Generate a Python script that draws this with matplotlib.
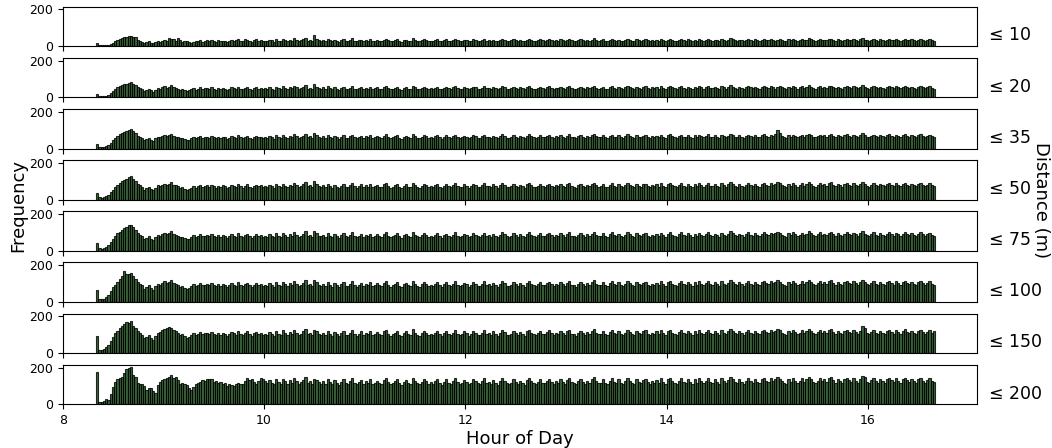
import numpy as np
import matplotlib
matplotlib.use("Agg")
import matplotlib.pyplot as plt

# ---------------- data ----------------
labels = ['≤ 10', '≤ 20', '≤ 35', '≤ 50', '≤ 75', '≤ 100', '≤ 150', '≤ 200']
x_ticks = [8, 10, 12, 14, 16]
y_ticks = [0, 200]
hour_start = 8 + 1 / 3
hour_end = 16 + 2 / 3

d10 = [15, 6, 5, 4, 5, 8, 12, 20, 28, 35, 40, 45, 50, 52, 55, 55, 50, 48, 35, 30, 25, 18, 22, 28, 20, 15, 25, 30, 22, 28,
       35, 30, 45, 40, 38, 30, 42, 35, 25, 28, 30, 22, 20, 25, 30, 28, 35, 25, 30, 32, 28, 35, 30, 25, 32, 28, 30, 26, 22, 30,
       35, 28, 32, 38, 30, 28, 40, 35, 30, 25, 32, 38, 30, 35, 28,
       30, 28, 35, 32, 25, 38, 30, 28, 40, 33, 27, 35, 30, 42, 36, 28, 32, 38, 45, 30, 35, 28, 60, 40, 32,
       30, 35, 28, 40, 32, 27, 36, 30, 25, 33, 38, 30, 28, 35, 42, 30, 27, 32, 36, 29, 34, 30, 38, 27, 31,
       35, 30, 28, 36, 40, 32, 27, 30, 34, 38, 30, 25, 33, 36, 30, 28, 42, 35, 30, 27, 32, 38, 34, 29, 31,
       28, 34, 38, 30, 26, 33, 37, 31, 29, 35, 40, 32, 28, 30, 36, 33, 27, 31, 38, 35, 30, 28, 34, 39, 31,
       33, 29, 36, 31, 27, 34, 40, 35, 30, 28, 32, 37, 33, 29, 35, 31, 27, 36, 41, 34, 30, 28, 33, 38, 32,
       30, 35, 39, 32, 28, 34, 31, 37, 33, 29, 36, 40, 32, 30, 27, 34, 38, 33, 29, 35, 31, 36, 42, 34, 30,
       32, 37, 30, 28, 35, 39, 33, 30, 36, 31, 28, 34, 40, 35, 31, 29, 37, 33, 30, 36, 38, 32, 29, 34, 31,
       35, 30, 38, 33, 29, 36, 41, 34, 31, 28, 35, 39, 32, 30, 37, 33, 29, 36, 31, 38, 34, 30, 35, 40, 33,
       31, 36, 33, 29, 38, 34, 30, 35, 42, 37, 32, 30, 36, 33, 29, 35, 39, 34, 31, 37, 33, 30, 36, 41, 35,
       32, 38, 34, 30, 36, 40, 35, 31, 29, 37, 33, 39, 35, 30, 34, 38, 32, 36, 42, 37, 33, 30, 35, 39, 34,
       36, 32, 38, 41, 35, 31, 37, 34, 30, 36, 40, 35, 32, 38, 34, 31, 37, 43, 36, 33, 30, 35, 39, 34, 31,
       37, 33, 30, 36, 40, 35, 32, 38, 34, 31, 36, 41, 35, 32, 37, 33, 30, 36, 39, 34, 31, 35, 38, 33, 30]

d20 = [20, 8, 6, 8, 10, 15, 25, 35, 45, 55, 60, 65, 70, 75, 80, 85, 75, 65, 55, 50, 45, 35, 40, 45, 38, 30, 40, 50, 45, 55,
       60, 52, 58, 65, 55, 50, 48, 42, 45, 40, 35, 38, 45, 50, 42, 48, 55, 45, 50, 52, 46, 55, 48, 42, 50, 45, 52, 48, 40, 46,
       55, 50, 45, 58, 48, 44, 52, 56, 47, 42, 50, 55, 48, 52, 45,
       50, 45, 55, 48, 42, 58, 50, 46, 60, 52, 44, 55, 49, 62, 54, 46, 50, 57, 65, 48, 53, 45, 70, 58, 50,
       47, 54, 45, 60, 50, 44, 55, 48, 42, 52, 58, 47, 45, 53, 62, 48, 44, 50, 56, 46, 53, 48, 57, 44, 50,
       55, 48, 45, 56, 62, 50, 44, 48, 53, 58, 47, 42, 52, 56, 48, 45, 63, 54, 47, 44, 51, 58, 53, 46, 50,
       45, 53, 58, 48, 43, 52, 57, 49, 46, 54, 61, 50, 45, 48, 56, 52, 44, 49, 58, 54, 47, 45, 53, 60, 49,
       52, 46, 56, 49, 44, 53, 62, 55, 47, 45, 50, 58, 52, 46, 55, 49, 44, 56, 63, 53, 48, 45, 52, 59, 50,
       48, 55, 60, 51, 45, 53, 49, 58, 52, 46, 56, 62, 50, 48, 44, 53, 59, 52, 46, 55, 49, 57, 64, 53, 48,
       50, 58, 48, 45, 55, 61, 52, 48, 57, 49, 45, 54, 62, 55, 49, 46, 58, 52, 48, 56, 60, 50, 46, 54, 49,
       56, 48, 60, 52, 46, 57, 63, 54, 49, 45, 55, 61, 51, 48, 58, 52, 46, 57, 49, 60, 54, 48, 55, 62, 52,
       49, 57, 52, 46, 60, 54, 48, 56, 65, 58, 51, 48, 57, 52, 46, 55, 61, 54, 49, 58, 52, 48, 57, 63, 55,
       51, 60, 54, 48, 57, 63, 55, 49, 46, 58, 52, 61, 55, 48, 54, 60, 51, 57, 65, 58, 52, 48, 55, 61, 53,
       57, 51, 60, 64, 55, 49, 58, 53, 48, 57, 63, 55, 51, 60, 54, 49, 58, 66, 57, 52, 48, 55, 61, 54, 49,
       58, 52, 48, 57, 63, 55, 50, 60, 54, 49, 57, 64, 55, 51, 58, 52, 48, 57, 62, 54, 49, 55, 60, 52, 48]

d35 = [25, 10, 8, 10, 14, 20, 32, 45, 58, 70, 78, 85, 90, 95, 100, 105, 95, 85, 70, 65, 58, 45, 50, 58, 48, 40, 55, 65, 60, 70,
       75, 68, 72, 80, 70, 65, 60, 55, 58, 50, 45, 48, 55, 62, 55, 60, 68, 58, 62, 65, 58, 68, 60, 55, 62, 57, 65, 60, 52, 58,
       68, 62, 57, 72, 60, 55, 64, 70, 58, 53, 62, 68, 60, 65, 57,
       62, 57, 68, 60, 54, 72, 62, 58, 75, 65, 56, 68, 61, 78, 67, 58, 62, 70, 80, 60, 66, 57, 85, 72, 62,
       59, 67, 57, 74, 62, 55, 68, 60, 53, 64, 72, 59, 57, 66, 76, 60, 55, 62, 70, 58, 66, 60, 71, 56, 62,
       68, 60, 57, 70, 77, 62, 55, 60, 66, 72, 59, 53, 64, 70, 60, 57, 78, 67, 59, 55, 63, 72, 66, 58, 62,
       57, 66, 72, 60, 54, 65, 71, 61, 58, 67, 76, 62, 57, 60, 70, 65, 55, 61, 72, 67, 59, 57, 66, 75, 61,
       65, 58, 70, 61, 55, 66, 77, 68, 59, 57, 62, 72, 65, 58, 68, 61, 55, 70, 78, 66, 60, 57, 65, 73, 62,
       60, 68, 75, 63, 57, 66, 61, 72, 65, 58, 70, 77, 62, 60, 55, 66, 73, 65, 58, 68, 61, 71, 79, 66, 60,
       62, 72, 60, 57, 68, 76, 65, 60, 71, 61, 57, 67, 77, 68, 61, 58, 72, 65, 60, 70, 74, 62, 58, 67, 61,
       70, 60, 75, 65, 58, 71, 78, 67, 61, 57, 68, 76, 64, 60, 72, 65, 58, 71, 61, 75, 67, 60, 68, 77, 65,
       61, 71, 65, 58, 75, 67, 60, 70, 80, 72, 64, 60, 71, 65, 58, 68, 76, 67, 61, 72, 65, 60, 71, 78, 68,
       64, 75, 68, 80, 100, 85, 70, 62, 58, 72, 65, 76, 68, 60, 67, 75, 64, 71, 80, 72, 65, 60, 68, 76, 66,
       71, 64, 75, 80, 69, 62, 73, 66, 60, 71, 78, 69, 64, 75, 68, 62, 72, 82, 71, 65, 60, 69, 76, 67, 62,
       72, 66, 61, 71, 78, 69, 63, 75, 68, 62, 71, 79, 69, 64, 73, 66, 61, 71, 77, 68, 62, 69, 75, 66, 61]

d50 = [35, 12, 10, 12, 18, 25, 40, 55, 70, 82, 92, 100, 108, 115, 122, 128, 115, 100, 85, 78, 70, 55, 62, 70, 58, 50, 65, 78, 72, 82,
       88, 80, 85, 95, 82, 78, 72, 65, 68, 60, 55, 58, 66, 75, 66, 72, 80, 70, 74, 78, 70, 80, 72, 66, 75, 68, 78, 72, 62, 70,
       80, 74, 68, 85, 72, 66, 76, 83, 70, 63, 74, 80, 72, 78, 68,
       74, 68, 80, 72, 65, 85, 74, 69, 88, 77, 67, 80, 73, 92, 79, 69, 74, 83, 98, 72, 78, 68, 102, 85, 74,
       70, 79, 68, 87, 74, 66, 80, 71, 63, 76, 85, 70, 68, 78, 90, 72, 66, 74, 83, 69, 78, 71, 84, 67, 73,
       80, 71, 68, 83, 91, 74, 66, 71, 78, 85, 70, 63, 76, 83, 71, 68, 92, 79, 70, 66, 75, 85, 78, 69, 74,
       68, 78, 85, 71, 64, 77, 84, 72, 69, 79, 90, 74, 68, 71, 83, 77, 66, 72, 85, 79, 70, 68, 78, 89, 72,
       77, 69, 83, 72, 65, 78, 91, 80, 70, 68, 73, 85, 77, 69, 80, 72, 65, 83, 92, 78, 71, 68, 77, 86, 73,
       71, 80, 88, 75, 68, 78, 72, 85, 77, 69, 83, 91, 74, 71, 66, 78, 86, 77, 69, 80, 72, 84, 93, 78, 71,
       73, 85, 71, 68, 80, 90, 77, 71, 84, 72, 68, 79, 91, 80, 72, 69, 85, 77, 71, 83, 88, 74, 69, 79, 72,
       83, 71, 89, 77, 69, 84, 92, 79, 72, 68, 80, 90, 76, 71, 85, 77, 69, 84, 72, 89, 79, 71, 80, 91, 77,
       72, 84, 77, 69, 89, 79, 71, 83, 95, 85, 76, 71, 84, 77, 69, 80, 90, 79, 72, 85, 77, 71, 84, 92, 80,
       76, 89, 80, 88, 98, 90, 79, 73, 69, 85, 77, 90, 80, 71, 79, 89, 76, 84, 95, 85, 77, 71, 80, 90, 78,
       84, 76, 89, 94, 82, 73, 86, 78, 71, 84, 92, 82, 76, 89, 80, 73, 85, 96, 84, 77, 71, 82, 90, 79, 73,
       85, 78, 72, 84, 92, 82, 74, 89, 80, 73, 84, 93, 82, 76, 86, 78, 72, 84, 91, 80, 73, 82, 89, 78, 72]

d75 = [45, 14, 12, 15, 22, 30, 48, 65, 80, 95, 105, 115, 122, 130, 138, 142, 128, 112, 95, 88, 80, 62, 70, 80, 66, 58, 74, 88, 82, 92,
       98, 90, 95, 106, 92, 87, 80, 73, 76, 68, 62, 65, 74, 84, 74, 80, 90, 78, 83, 87, 78, 90, 81, 74, 84, 76, 87, 80, 70, 78,
       90, 83, 76, 95, 80, 74, 85, 93, 78, 71, 83, 90, 80, 87, 76,
       83, 76, 90, 81, 73, 95, 83, 77, 98, 86, 75, 90, 82, 102, 88, 77, 83, 93, 108, 80, 87, 76, 110, 95, 83,
       78, 88, 76, 97, 83, 74, 90, 80, 71, 85, 95, 78, 76, 87, 100, 81, 74, 83, 93, 77, 87, 80, 94, 75, 82,
       90, 80, 76, 93, 101, 83, 74, 80, 87, 95, 78, 71, 85, 93, 80, 76, 103, 88, 78, 74, 84, 95, 87, 77, 83,
       76, 87, 95, 80, 72, 86, 94, 81, 77, 88, 100, 83, 76, 80, 93, 86, 74, 81, 95, 88, 78, 76, 87, 99, 81,
       86, 77, 93, 81, 73, 87, 101, 89, 78, 76, 82, 95, 86, 77, 89, 81, 73, 93, 102, 87, 79, 76, 86, 96, 82,
       80, 89, 98, 84, 76, 87, 81, 95, 86, 77, 93, 101, 83, 80, 74, 87, 96, 86, 77, 89, 81, 94, 104, 87, 80,
       82, 95, 80, 76, 89, 100, 86, 80, 94, 81, 76, 88, 101, 89, 81, 77, 95, 86, 80, 93, 98, 83, 77, 88, 81,
       93, 80, 99, 86, 77, 94, 102, 88, 81, 76, 89, 100, 85, 80, 95, 86, 77, 94, 81, 99, 88, 80, 89, 101, 86,
       81, 94, 86, 77, 99, 88, 80, 93, 106, 95, 85, 80, 94, 86, 77, 89, 100, 88, 81, 95, 86, 80, 94, 102, 89,
       85, 99, 89, 97, 105, 98, 88, 82, 77, 95, 86, 100, 89, 80, 88, 99, 85, 94, 106, 95, 86, 80, 89, 100, 87,
       94, 85, 99, 104, 91, 82, 96, 87, 80, 94, 102, 91, 85, 99, 89, 82, 95, 106, 94, 86, 80, 91, 100, 88, 82,
       95, 87, 81, 94, 102, 91, 83, 99, 89, 82, 94, 103, 91, 85, 96, 87, 81, 94, 101, 89, 82, 91, 99, 87, 81]

d100 = [65, 16, 14, 18, 28, 40, 60, 80, 95, 110, 125, 140, 170, 150, 155, 160, 140, 125, 108, 100, 92, 72, 80, 92, 76, 66, 85, 100, 95, 105,
        112, 104, 108, 120, 106, 100, 92, 84, 88, 78, 72, 75, 85, 96, 85, 92, 102, 90, 95, 100, 90, 102, 93, 85, 96, 87, 99, 92, 81, 90,
        103, 95, 88, 108, 92, 85, 97, 106, 90, 82, 95, 103, 92, 99, 87,
        94, 86, 102, 92, 83, 107, 94, 88, 111, 98, 85, 102, 93, 115, 100, 87, 94, 105, 120, 91, 99, 86, 118, 107, 94,
        89, 100, 86, 110, 94, 84, 102, 91, 81, 97, 108, 89, 86, 99, 113, 92, 84, 94, 106, 87, 99, 91, 107, 85, 93,
        102, 91, 86, 106, 114, 94, 84, 91, 99, 108, 89, 81, 97, 106, 91, 86, 116, 100, 89, 84, 96, 108, 99, 88, 94,
        86, 99, 108, 91, 82, 98, 107, 92, 88, 100, 113, 94, 86, 91, 106, 98, 84, 92, 108, 100, 89, 86, 99, 112, 92,
        98, 88, 106, 92, 83, 99, 114, 101, 89, 86, 93, 108, 98, 88, 101, 92, 83, 106, 115, 99, 90, 86, 98, 109, 93,
        91, 101, 111, 96, 86, 99, 92, 108, 98, 88, 106, 114, 94, 91, 84, 99, 109, 98, 88, 101, 92, 107, 117, 99, 91,
        93, 108, 91, 86, 101, 113, 98, 91, 107, 92, 86, 100, 114, 101, 92, 88, 108, 98, 91, 106, 111, 94, 88, 100, 92,
        106, 91, 112, 98, 88, 107, 115, 100, 92, 86, 101, 113, 97, 91, 108, 98, 88, 107, 92, 112, 100, 91, 101, 114, 98,
        92, 107, 98, 88, 112, 100, 91, 106, 119, 108, 97, 91, 107, 98, 88, 101, 113, 100, 92, 108, 98, 91, 107, 115, 101,
        97, 112, 101, 110, 118, 111, 100, 93, 88, 108, 98, 113, 101, 91, 100, 112, 97, 107, 119, 108, 98, 91, 101, 113, 99,
        107, 97, 112, 117, 103, 93, 109, 99, 91, 107, 115, 103, 97, 112, 101, 93, 108, 119, 107, 98, 91, 103, 113, 100, 93,
        108, 99, 92, 107, 115, 103, 94, 112, 101, 93, 107, 116, 103, 97, 109, 99, 92, 107, 114, 101, 93, 103, 112, 99, 92]

d150 = [95, 18, 16, 20, 32, 45, 68, 90, 108, 122, 138, 150, 160, 170, 165, 175, 150, 135, 118, 110, 100, 80, 88, 100, 84, 72, 95, 110, 115, 125,
        130, 135, 140, 138, 125, 118, 108, 98, 102, 92, 85, 88, 100, 110, 98, 105, 115, 102, 108, 112, 102, 115, 106, 97, 109, 99, 112, 104, 93, 102,
        116, 107, 100, 120, 104, 97, 110, 118, 102, 94, 108, 116, 104, 112, 99,
        106, 98, 115, 104, 95, 120, 106, 100, 124, 110, 97, 115, 105, 128, 112, 99, 106, 118, 132, 103, 111, 98, 125, 118, 106,
        101, 112, 98, 123, 106, 96, 115, 103, 92, 109, 121, 101, 98, 111, 126, 104, 96, 106, 119, 99, 111, 103, 120, 97, 105,
        114, 103, 98, 119, 127, 106, 96, 103, 111, 121, 101, 93, 109, 119, 103, 98, 129, 112, 101, 96, 108, 121, 111, 100, 106,
        98, 111, 121, 103, 94, 110, 120, 104, 100, 112, 126, 106, 98, 103, 119, 110, 96, 104, 121, 112, 101, 98, 111, 125, 104,
        110, 100, 119, 104, 95, 111, 127, 113, 101, 98, 105, 121, 110, 100, 113, 104, 95, 119, 128, 111, 102, 98, 110, 122, 105,
        103, 113, 124, 108, 98, 111, 104, 121, 110, 100, 119, 127, 106, 103, 96, 111, 122, 110, 100, 113, 104, 120, 130, 111, 103,
        105, 121, 103, 98, 113, 126, 110, 103, 120, 104, 98, 112, 127, 113, 104, 100, 121, 110, 103, 119, 124, 106, 100, 112, 104,
        119, 103, 125, 110, 100, 120, 128, 112, 104, 98, 113, 126, 109, 103, 121, 110, 100, 120, 104, 125, 112, 103, 113, 127, 110,
        104, 120, 110, 100, 125, 112, 103, 119, 132, 121, 109, 103, 120, 110, 100, 113, 126, 112, 104, 121, 110, 103, 120, 128, 113,
        109, 125, 113, 123, 131, 124, 112, 105, 100, 121, 110, 126, 113, 103, 112, 125, 109, 120, 132, 121, 110, 103, 113, 126, 111,
        120, 109, 125, 130, 116, 105, 122, 111, 103, 120, 128, 116, 109, 125, 113, 105, 121, 150, 135, 110, 103, 116, 126, 112, 105,
        121, 111, 104, 120, 128, 116, 106, 125, 113, 105, 120, 129, 116, 109, 122, 111, 104, 120, 127, 113, 105, 116, 125, 111, 120]

d200 = [178, 12, 10, 18, 30, 25, 55, 95, 120, 135, 145, 150, 170, 190, 200, 205, 160, 150, 115, 110, 110, 100, 80, 90, 88, 70, 60, 105, 120, 130,
        140, 145, 150, 160, 145, 150, 130, 110, 115, 110, 105, 90, 80, 95, 110, 115, 120, 130, 125, 140, 135, 140, 120, 125, 118, 122, 110, 115, 100, 108,
        105, 100, 110, 115, 112, 108, 125, 145, 130, 140, 120, 110, 125, 145, 140,
        125, 115, 130, 118, 108, 135, 120, 112, 140, 125, 110, 130, 118, 145, 128, 112, 120, 133, 150, 116, 125, 110, 140, 132, 120,
        113, 126, 110, 138, 120, 108, 130, 116, 104, 123, 136, 114, 110, 125, 142, 117, 108, 120, 134, 112, 125, 116, 135, 109, 118,
        128, 116, 110, 134, 143, 120, 108, 116, 125, 136, 114, 105, 123, 134, 116, 110, 145, 126, 114, 108, 122, 136, 125, 113, 120,
        110, 125, 136, 116, 106, 124, 135, 117, 113, 126, 142, 120, 110, 116, 134, 124, 108, 117, 136, 126, 114, 110, 125, 141, 117,
        124, 113, 134, 117, 107, 125, 143, 127, 114, 110, 118, 136, 124, 113, 127, 117, 107, 134, 144, 125, 115, 110, 124, 137, 118,
        116, 127, 140, 122, 110, 125, 117, 136, 124, 113, 134, 143, 120, 116, 108, 125, 138, 124, 113, 127, 117, 135, 146, 125, 116,
        118, 136, 116, 110, 127, 142, 124, 116, 135, 117, 110, 126, 143, 127, 117, 113, 136, 124, 116, 134, 140, 120, 113, 126, 117,
        134, 116, 141, 124, 113, 135, 144, 126, 117, 110, 127, 142, 123, 116, 136, 124, 113, 135, 117, 141, 126, 116, 127, 143, 124,
        117, 135, 124, 113, 141, 126, 116, 134, 148, 136, 123, 116, 135, 124, 113, 127, 142, 126, 117, 136, 124, 116, 135, 144, 127,
        123, 141, 127, 139, 147, 140, 126, 118, 113, 136, 124, 142, 127, 116, 126, 141, 123, 135, 148, 136, 124, 116, 127, 142, 125,
        135, 123, 141, 146, 131, 118, 137, 125, 116, 135, 144, 131, 123, 141, 127, 118, 136, 155, 148, 124, 116, 131, 142, 126, 118,
        136, 125, 117, 135, 144, 131, 119, 141, 127, 118, 135, 145, 131, 123, 137, 125, 117, 135, 143, 127, 118, 131, 141, 125, 122]

series = [d10, d20, d35, d50, d75, d100, d150, d200]

# ---------------- plot ----------------
W, H = 1052, 448
fig, axes = plt.subplots(8, 1, figsize=(W / 100, H / 100), dpi=100, sharex=True, sharey=True)
fig.subplots_adjust(left=62.7 / W, right=977 / W, top=1 - 6.7 / H, bottom=1 - 404.3 / H, hspace=0.295)

for ax, vals, lab in zip(axes, series, labels):
    n = len(vals)
    edges = np.linspace(hour_start, hour_end, n + 1)
    ax.hist(edges[:-1], bins=edges, weights=vals, color='#0a3f0a',
            edgecolor='black', alpha=0.8, linewidth=0.8)
    ax.set_ylim(0, 215)
    ax.set_yticks(y_ticks)
    ax.tick_params(axis='both', labelsize=9, length=3.5)
    ax.text(1.013, 0.5, lab, transform=ax.transAxes, ha='left', va='top', fontsize=12.5)

axes[-1].set_xlim(8, 17.083)
axes[-1].set_xticks(x_ticks)
axes[-1].set_xlabel('Hour of Day', fontsize=13, labelpad=2)

fig.text(18 / W, 1 - 205 / H, 'Frequency', rotation=90, ha='center', va='center', fontsize=13)
fig.text(1041 / W, 1 - 200 / H, 'Distance (m)', rotation=270, ha='center', va='center', fontsize=13)

fig.savefig('out.png', dpi=100)
